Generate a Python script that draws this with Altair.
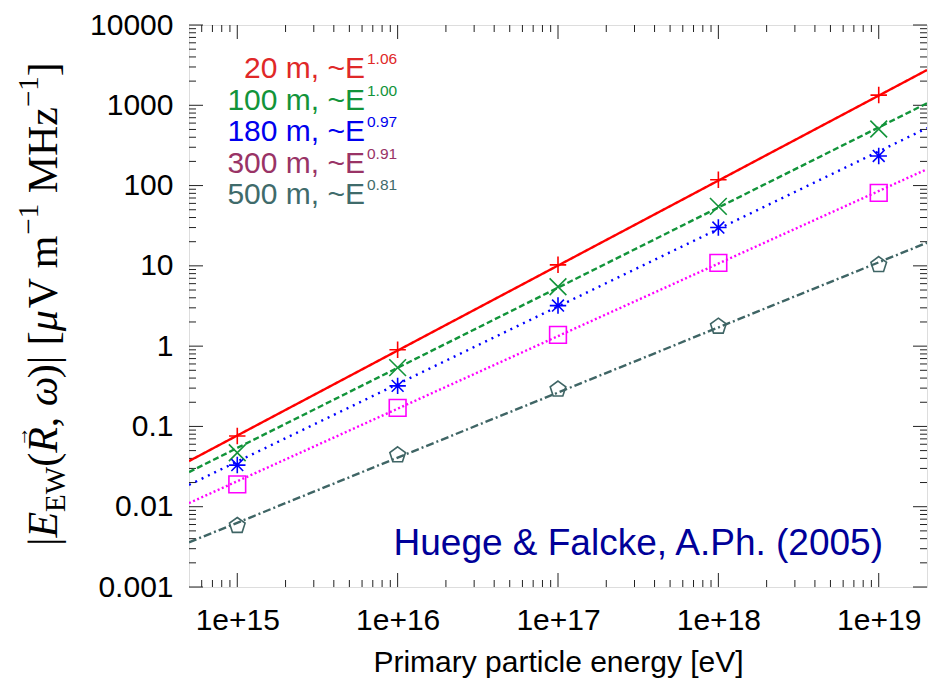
import altair as alt
import pandas as pd

# ---------------- data ----------------
energy = [1e15, 1e16, 1e17, 1e18, 1e19]
series_names = ["20 m", "100 m", "180 m", "300 m", "500 m"]
exponents = ["1.06", "1.00", "0.97", "0.91", "0.81"]

vals_20 = [0.076, 0.90, 10.3, 118, 1340]
vals_100 = [0.047, 0.54, 5.5, 55, 507]
vals_180 = [0.033, 0.32, 3.2, 30, 234]
vals_300 = [0.019, 0.17, 1.38, 10.9, 81]
vals_500 = [0.0058, 0.044, 0.29, 1.76, 10.3]

fit_energy = [5e14, 2e19]
fit_20 = [0.037, 2750]
fit_100 = [0.027, 1060]
fit_180 = [0.0187, 520]
fit_300 = [0.0111, 160]
fit_500 = [0.0036, 19.4]

x_ticks = [1e15, 1e16, 1e17, 1e18, 1e19]
x_tick_labels = ["1e+15", "1e+16", "1e+17", "1e+18", "1e+19"]
y_ticks = [0.001, 0.01, 0.1, 1, 10, 100, 1000, 10000]
y_tick_labels = ["0.001", "0.01", "0.1", "1", "10", "100", "1000", "10000"]

x_title = "Primary particle energy [eV]"
credit = "Huege & Falcke, A.Ph. (2005)"

# ---------------- styles ----------------
W, H = 738, 562
line_colors = ["#ff0000", "#12943a", "#0000ff", "#ff00ff", "#3f6565"]
text_colors = ["#e02828", "#12943a", "#0000ee", "#993366", "#3f6b6b"]
dashes = [[1, 0], [6, 3], [2, 5], [2, 2.5], [8, 3, 2, 3]]
shapes = [
    "M-1,0L1,0M0,-1L0,1",
    "M-1,-1L1,1M-1,1L1,-1",
    "M-1,0L1,0M0,-1L0,1M-0.72,-0.72L0.72,0.72M-0.72,0.72L0.72,-0.72",
    "M-1,-1L1,-1L1,1L-1,1Z",
    "M0,-1L0.951,-0.309L0.588,0.809L-0.588,0.809L-0.951,-0.309Z",
]
sizes = [270, 280, 270, 280, 270]

xs = alt.Scale(type="log", domain=[5e14, 2e19], nice=False)
ys = alt.Scale(type="log", domain=[0.001, 10000], nice=False)


def label_expr(vals, labels):
    expr = "''"
    for v, l in reversed(list(zip(vals, labels))):
        expr = f"abs(datum.value - {v!r}) < {v!r} * 1e-6 ? '{l}' : ({expr})"
    return expr


x_axis = alt.Axis(values=x_ticks, labelExpr=label_expr(x_ticks, x_tick_labels),
                  title=x_title, ticks=False, domain=False, grid=False,
                  labelFontSize=30, labelPadding=18, titleFontSize=30,
                  titlePadding=12, titleFontWeight="normal",
                  labelFont="Liberation Sans", titleFont="Liberation Sans",
                  labelColor="#000", titleColor="#000", labelFlush=False)
y_axis = alt.Axis(values=y_ticks, labelExpr=label_expr(y_ticks, y_tick_labels),
                  title=None, ticks=False, domain=False, grid=False,
                  labelFontSize=30, labelPadding=16, labelFont="Liberation Sans",
                  labelColor="#000", labelFlush=False)

X = lambda f: alt.X(f, type="quantitative", scale=xs, axis=x_axis)
Y = lambda f: alt.Y(f, type="quantitative", scale=ys, axis=y_axis)

layers = []

# ---------------- inward ticks on all four sides ----------------
x_minor = [m * 10.0 ** e for e in range(14, 20) for m in range(2, 10)
           if 5e14 < m * 10.0 ** e < 2e19]
y_minor = [m * 10.0 ** e for e in range(-3, 4) for m in range(2, 10)]
for vals, L in ((x_ticks, 14), (x_minor, 7)):
    df = pd.DataFrame({"E": vals})
    layers.append(alt.Chart(df).mark_rule(color="#222", strokeWidth=1).encode(
        x=X("E"), y=alt.value(H), y2=alt.value(H - L)))
    layers.append(alt.Chart(df).mark_rule(color="#222", strokeWidth=1).encode(
        x=X("E"), y=alt.value(0), y2=alt.value(L)))
for vals, L in ((y_ticks, 14), (y_minor, 7)):
    df = pd.DataFrame({"V": vals})
    layers.append(alt.Chart(df).mark_rule(color="#222", strokeWidth=1).encode(
        y=Y("V"), x=alt.value(0), x2=alt.value(L)))
    layers.append(alt.Chart(df).mark_rule(color="#222", strokeWidth=1).encode(
        y=Y("V"), x=alt.value(W), x2=alt.value(W - L)))

# ---------------- fit lines and points ----------------
all_vals = [vals_20, vals_100, vals_180, vals_300, vals_500]
all_fits = [fit_20, fit_100, fit_180, fit_300, fit_500]
for i in range(5):
    dfl = pd.DataFrame({"E": fit_energy, "V": all_fits[i]})
    layers.append(alt.Chart(dfl).mark_line(color=line_colors[i], strokeWidth=2.4,
                                           strokeDash=dashes[i], clip=True).encode(
        x=X("E"), y=Y("V")))
for i in range(5):
    dfp = pd.DataFrame({"E": energy, "V": all_vals[i]})
    layers.append(alt.Chart(dfp).mark_point(shape=shapes[i], size=sizes[i], filled=False,
                                            color=line_colors[i], strokeWidth=1.6,
                                            opacity=1).encode(
        x=X("E"), y=Y("V")))

# ---------------- in-plot legend text ----------------
for i in range(5):
    base_y = 53 + 31.5 * i
    d1 = pd.DataFrame({"t": [series_names[i] + ", ~E"]})
    layers.append(alt.Chart(d1).mark_text(align="right", baseline="alphabetic",
                                          fontSize=30, font="Liberation Sans",
                                          color=text_colors[i]).encode(
        text="t:N", x=alt.value(176), y=alt.value(base_y)))
    d2 = pd.DataFrame({"t": [exponents[i]]})
    layers.append(alt.Chart(d2).mark_text(align="left", baseline="alphabetic",
                                          fontSize=15.5, font="Liberation Sans",
                                          color=text_colors[i]).encode(
        text="t:N", x=alt.value(178), y=alt.value(base_y - 14)))

d3 = pd.DataFrame({"t": [credit]})
layers.append(alt.Chart(d3).mark_text(align="right", baseline="alphabetic",
                                      fontSize=37, font="Liberation Sans",
                                      color="#000099").encode(
    text="t:N", x=alt.value(694), y=alt.value(530)))

# ---------------- y-axis title built from pieces (LaTeX-like) ----------------
reg_w = {"|": 0.2, "(": 0.333, ")": 0.333, ",": 0.25, " ": 0.25, "[": 0.333,
         "]": 0.333, "V": 0.722, "m": 0.778, "M": 0.889, "H": 0.722, "z": 0.444,
         "E": 0.611, "W": 0.944, "1": 0.5, "\u2212": 0.564}
it_w = {"E": 0.611, "R": 0.611, "\u03c9": 0.667, "\u03bc": 0.55, " ": 0.25}
S, s = 42, 29
pieces = [("|", False, "m"), ("E", True, "m"), ("EW", False, "sub"),
          ("(", False, "m"), ("R", True, "vec"), (", ", False, "m"),
          ("\u03c9", True, "m"), (")|", False, "m"), (" [", False, "m"),
          ("\u03bc", True, "m"), ("V m", False, "m"), ("\u22121", False, "sup"),
          (" MHz", False, "m"), ("\u22121", False, "sup"), ("]", False, "m")]
ycur = 521
bx = -132


def text_layer(txt, x, y, size, ital):
    dft = pd.DataFrame({"t": [txt]})
    return alt.Chart(dft).mark_text(align="left", baseline="alphabetic", angle=270,
                                    fontSize=size, font="Liberation Serif",
                                    fontStyle="italic" if ital else "normal",
                                    color="#000").encode(
        text="t:N", x=alt.value(x), y=alt.value(y))


for txt, ital, kind in pieces:
    size = s if kind in ("sub", "sup") else S
    dx = {"m": 0, "vec": 0, "sub": 8, "sup": -19}[kind]
    table = it_w if ital else reg_w
    wdt = sum(table.get(c, reg_w.get(c, 0.5)) for c in txt) * size
    lead = len(txt) - len(txt.lstrip(" "))
    shown = txt.lstrip(" ")
    layers.append(text_layer(shown, bx + dx, ycur - lead * 0.25 * size, size, ital))
    if kind == "vec":
        # small arrow over the R
        layers.append(text_layer("\u2192", bx - 29, ycur - 6, 20, False))
    ycur -= wdt

chart = alt.layer(*layers).properties(
    width=W, height=H,
    autosize=alt.AutoSizeParams(type="none"),
    padding={"left": 181, "top": 17, "right": 3, "bottom": 91},
).configure_view(stroke="#000", strokeWidth=1.5).configure(background="white")

chart.save("out.html", embed_options={"renderer": "svg", "actions": False})
